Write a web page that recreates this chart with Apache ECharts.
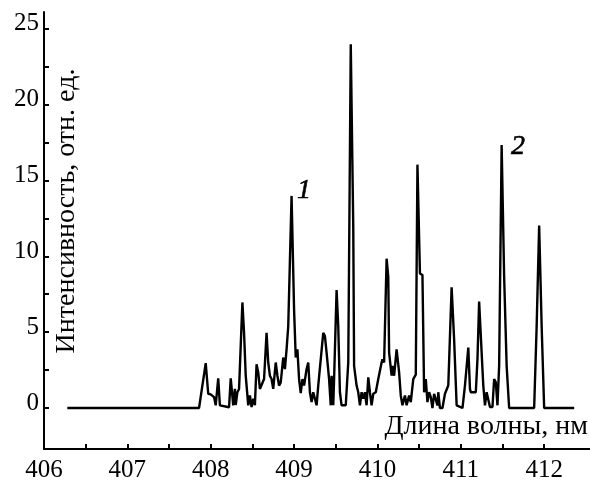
<!DOCTYPE html>
<html>
<head>
<meta charset="utf-8">
<script src="https://cdn.jsdelivr.net/npm/echarts@6/dist/echarts.min.js"></script>
<style>
  html, body { margin: 0; padding: 0; background: #fff; }
  #chart { width: 590px; height: 483px; }
</style>
</head>
<body>
<div id="chart"></div>
<script>
// Emission spectrum: wavelength (nm) and relative intensity
const wavelength = [
  406.28, 407.86, 407.94, 407.97, 408.00, 408.02, 408.04, 408.06, 408.09, 408.11,
  408.22, 408.24, 408.25, 408.27, 408.29, 408.30, 408.32, 408.34, 408.38, 408.40,
  408.42, 408.45, 408.47, 408.49, 408.51, 408.53, 408.55, 408.57, 408.59, 408.61,
  408.64, 408.67, 408.69, 408.71, 408.73, 408.75, 408.78, 408.80, 408.82, 408.84,
  408.87, 408.89, 408.91, 408.93, 408.97, 409.00, 409.02, 409.04, 409.06, 409.08,
  409.10, 409.12, 409.15, 409.17, 409.19, 409.21, 409.23, 409.25, 409.27, 409.29,
  409.32, 409.35, 409.37, 409.39, 409.42, 409.44, 409.45, 409.47, 409.48, 409.51,
  409.53, 409.55, 409.57, 409.62, 409.65, 409.67, 409.68, 409.71, 409.72, 409.75,
  409.77, 409.79, 409.81, 409.83, 409.85, 409.87, 409.89, 409.91, 409.93, 409.95,
  409.98, 410.01, 410.05, 410.06, 410.08, 410.11, 410.13, 410.14, 410.17, 410.18,
  410.20, 410.23, 410.26, 410.28, 410.30, 410.33, 410.35, 410.38, 410.40, 410.43,
  410.46, 410.48, 410.51, 410.54, 410.56, 410.58, 410.60, 410.62, 410.64, 410.66,
  410.68, 410.70, 410.72, 410.73, 410.75, 410.78, 410.81, 410.83, 410.85, 410.89,
  410.92, 410.95, 411.02, 411.05, 411.09, 411.11, 411.12, 411.18, 411.20, 411.22,
  411.25, 411.27, 411.29, 411.31, 411.33, 411.35, 411.38, 411.40, 411.42, 411.44,
  411.46, 411.49, 411.52, 411.55, 411.58, 411.88, 411.91, 411.94, 411.97, 412.00,
  412.36
];
const intensity = [
  0, 0, 2.96, 0.94, 0.90, 0.83, 0.72, 0.18, 1.96, 0.18,
  0.05, 1.96, 1.87, 0.17, 1.26, 0.20, 1.04, 1.26, 6.96, 4.95,
  2.13, 0.18, 0.83, 0.07, 0.61, 0.18, 2.89, 2.35, 1.26, 1.26,
  1.91, 4.95, 3.00, 2.13, 1.91, 1.26, 3.00, 2.13, 1.48, 1.69,
  3.33, 2.57, 3.87, 5.39, 13.98, 6.48, 3.33, 3.87, 1.91, 0.98,
  1.91, 1.48, 2.57, 3.00, 1.04, 0.39, 1.04, 0.94, 0.18, 1.48,
  3.22, 4.95, 4.74, 3.65, 1.91, 0.18, 2.13, 0.18, 1.91, 7.78,
  5.39, 1.04, 0.18, 0.18, 3.00, 3.11, 23.97, 11.91, 2.78, 1.48,
  1.04, 0.18, 1.04, 0.61, 1.04, 0.18, 2.02, 1.04, 0.18, 0.94,
  1.04, 1.91, 3.00, 3.22, 3.00, 9.84, 8.65, 3.65, 2.13, 2.78,
  2.13, 3.87, 2.35, 0.83, 0.18, 0.83, 0.18, 0.83, 0.39, 1.91,
  2.20, 16.04, 8.87, 8.76, 1.04, 1.91, 0.39, 1.04, 0.72, 0,
  0.94, 0.94, 0.18, 1.04, 0, 0, 0.94, 1.04, 1.48, 7.95,
  4.52, 0.18, 0, 1.48, 3.98, 1.26, 1.04, 1.04, 3.22, 7.02,
  3.65, 1.48, 0.18, 1.04, 1.04, 0.07, 0.07, 1.91, 1.69, 0.18,
  2.78, 17.34, 8.65, 2.78, 0, 0, 5.39, 12.02, 5.39, 0,
  0
];

// Axis ticks and labels
const xTickValues = [406, 406.5, 407, 407.5, 408, 408.5, 409, 409.5, 410, 410.5, 411, 411.5, 412];
const xLabelValues = [406, 407, 408, 409, 410, 411, 412];
const yTickValues = [0, 2.5, 5, 7.5, 10, 12.5, 15, 17.5, 20, 22.5, 25];
const yLabelValues = [0, 5, 10, 15, 20, 25];

// Curve numbers placed next to their lines
const curveNames = ['1', '2'];
const curveNameX = [409.12, 411.686];
const curveNameY = [14.3, 17.24];

const xTitle = 'Длина волны, нм';
const yTitle = 'Интенсивность, отн. ед.';

const SERIF = '"Liberation Serif", "DejaVu Serif", serif';

const chart = echarts.init(document.getElementById('chart'), null, { renderer: 'canvas' });

const axisCommon = {
  type: 'value',
  splitLine: { show: false },
  axisLine: { show: true, onZero: false, lineStyle: { color: '#000', width: 2 } },
  axisTick: { show: true, inside: true, length: 5, lineStyle: { color: '#000', width: 2 } },
};

chart.setOption({
  animation: false,
  backgroundColor: '#fff',
  grid: { left: 44, right: 0, top: 12, bottom: 29, containLabel: false },
  xAxis: Object.assign({}, axisCommon, {
    min: 406,
    max: 412.55,
    axisTick: Object.assign({}, axisCommon.axisTick, { customValues: xTickValues }),
    axisLabel: {
      customValues: xLabelValues,
      color: '#000',
      fontFamily: SERIF,
      fontSize: 25,
      margin: 9,
      showMinLabel: true,
      showMaxLabel: true
    }
  }),
  yAxis: Object.assign({}, axisCommon, {
    min: -2.7,
    max: 26.1,
    axisTick: Object.assign({}, axisCommon.axisTick, { customValues: yTickValues }),
    axisLabel: {
      customValues: yLabelValues,
      color: '#000',
      fontFamily: SERIF,
      fontSize: 25,
      margin: 5,
      verticalAlign: 'bottom',
      lineHeight: 10
    }
  }),
  graphic: [
    {
      type: 'text',
      x: 588,
      y: 427,
      style: {
        text: xTitle,
        fill: '#000',
        font: '28px ' + SERIF,
        textAlign: 'right',
        textVerticalAlign: 'middle'
      }
    },
    {
      type: 'text',
      x: 67,
      y: 211,
      rotation: Math.PI / 2,
      style: {
        text: yTitle,
        fill: '#000',
        font: '28px ' + SERIF,
        textAlign: 'center',
        textVerticalAlign: 'middle'
      }
    }
  ],
  series: [
    {
      type: 'line',
      data: wavelength.map((w, i) => [w, intensity[i]]),
      showSymbol: false,
      symbol: 'none',
      lineStyle: { color: '#000', width: 2.4 },
      silent: true
    },
    {
      type: 'scatter',
      data: curveNames.map((n, i) => ({ name: n, value: [curveNameX[i], curveNameY[i]] })),
      symbolSize: 1,
      itemStyle: { color: 'rgba(0,0,0,0)' },
      label: {
        show: true,
        position: 'inside',
        formatter: p => p.name,
        color: '#000',
        opacity: 1,
        textBorderColor: '#000',
        textBorderWidth: 0.6,
        fontFamily: SERIF,
        fontStyle: 'italic',
        fontSize: 28
      },
      silent: true
    }
  ]
});
</script>
</body>
</html>
